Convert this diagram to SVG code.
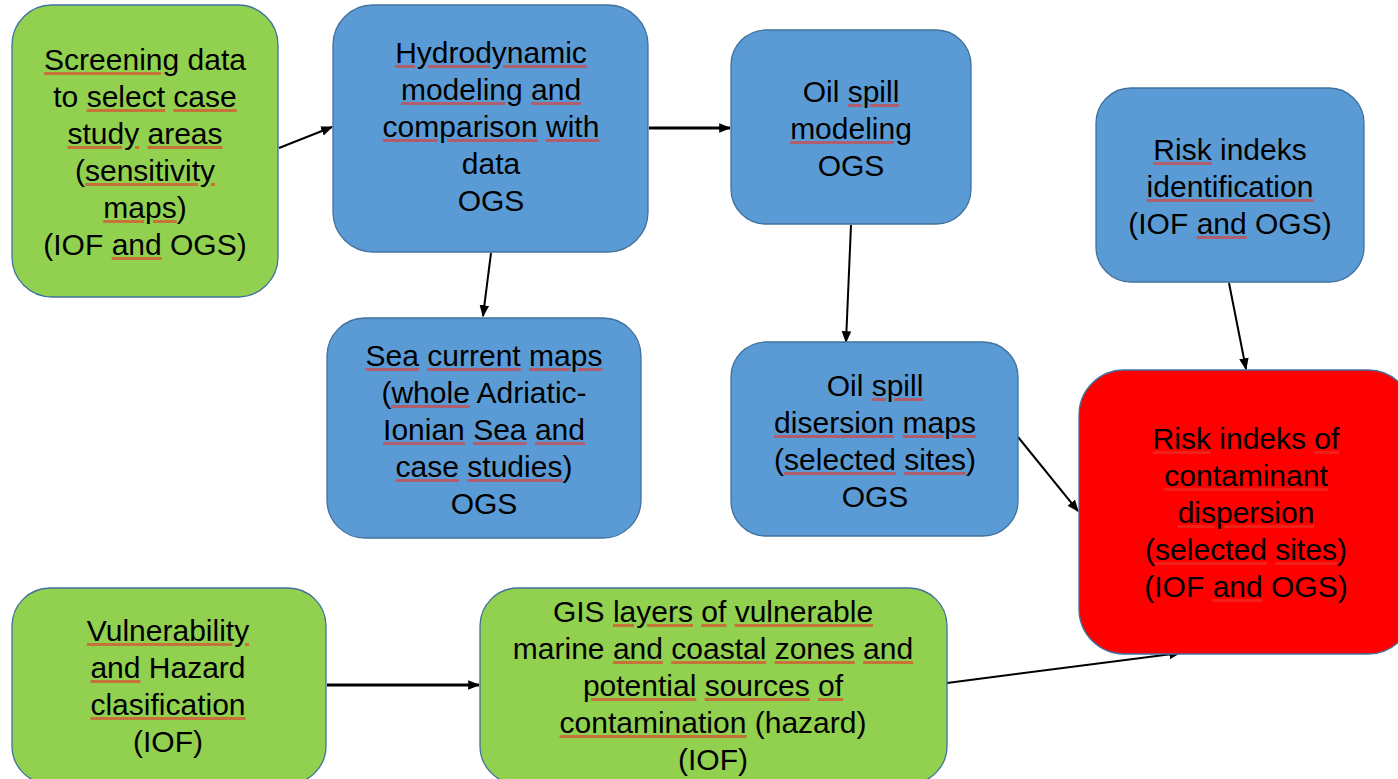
<svg xmlns="http://www.w3.org/2000/svg" width="1398" height="779" viewBox="0 0 1398 779">
<style>
.box{stroke:#41719C;stroke-width:1.3}
.g{fill:#92D050}
.b{fill:#5B9BD5}
.r{fill:#FF0000}
.t{font-family:"Liberation Sans",Arial,sans-serif;font-size:30px;fill:#000;text-anchor:middle}
.sp{fill:#e8352a;fill-opacity:0.6;text-decoration:underline;text-underline-offset:3px}
.k{fill:#000;fill-opacity:1}
.c{stroke:#000;stroke-width:2;fill:none;marker-end:url(#ah)}
.c3{stroke:#000;stroke-width:3;fill:none;marker-end:url(#ah2)}
</style>
<defs>
<marker id="ah" viewBox="0 0 10 10" refX="9" refY="5" markerWidth="6" markerHeight="6" markerUnits="strokeWidth" orient="auto"><path d="M0,1 L10,5 L0,9 z" fill="#000"/></marker>
<marker id="ah2" viewBox="0 0 10 10" refX="9" refY="5" markerWidth="4" markerHeight="4" markerUnits="strokeWidth" orient="auto"><path d="M0,1 L10,5 L0,9 z" fill="#000"/></marker>
</defs>
<rect width="1398" height="779" fill="#fff"/>

<g id="connectors">
<line class="c" x1="279" y1="148" x2="332" y2="127"/>
<line class="c3" x1="649" y1="128" x2="730" y2="128"/>
<line class="c" x1="491" y1="253" x2="483" y2="316"/>
<line class="c" x1="851" y1="225" x2="846" y2="342"/>
<line class="c" x1="1229" y1="283" x2="1246" y2="369"/>
<line class="c" x1="1018" y1="437" x2="1078" y2="511"/>
<line class="c3" x1="327" y1="685" x2="479" y2="685"/>
<line class="c" x1="947" y1="683" x2="1180" y2="653"/>
</g>

<g id="n1">
<rect class="box g" x="12" y="5" width="266" height="292" rx="40"/>
<text class="t" y="70"><tspan x="145"><tspan class="sp"><tspan class="k">Screening</tspan></tspan> data</tspan><tspan x="145" dy="37">to <tspan class="sp"><tspan class="k">select</tspan></tspan> <tspan class="sp"><tspan class="k">case</tspan></tspan></tspan><tspan x="145" dy="37"><tspan class="sp"><tspan class="k">study</tspan></tspan> <tspan class="sp"><tspan class="k">areas</tspan></tspan></tspan><tspan x="145" dy="37">(<tspan class="sp"><tspan class="k">sensitivity</tspan></tspan></tspan><tspan x="145" dy="37"><tspan class="sp"><tspan class="k">maps</tspan></tspan>)</tspan><tspan x="145" dy="37">(IOF <tspan class="sp"><tspan class="k">and</tspan></tspan> OGS)</tspan></text>
</g>

<g id="n2">
<rect class="box b" x="333" y="5" width="315" height="247" rx="40"/>
<text class="t" y="63"><tspan x="491"><tspan class="sp"><tspan class="k">Hydrodynamic</tspan></tspan></tspan><tspan x="491" dy="37"><tspan class="sp"><tspan class="k">modeling</tspan></tspan> <tspan class="sp"><tspan class="k">and</tspan></tspan></tspan><tspan x="491" dy="37"><tspan class="sp"><tspan class="k">comparison</tspan></tspan> <tspan class="sp"><tspan class="k">with</tspan></tspan></tspan><tspan x="491" dy="37">data</tspan><tspan x="491" dy="37">OGS</tspan></text>
</g>

<g id="n3">
<rect class="box b" x="731" y="30" width="240" height="194" rx="35"/>
<text class="t" y="102"><tspan x="851">Oil <tspan class="sp"><tspan class="k">spill</tspan></tspan></tspan><tspan x="851" dy="37"><tspan class="sp"><tspan class="k">modeling</tspan></tspan></tspan><tspan x="851" dy="37">OGS</tspan></text>
</g>

<g id="n4">
<rect class="box b" x="1096" y="88" width="268" height="194" rx="35"/>
<text class="t" y="160"><tspan x="1230"><tspan class="sp"><tspan class="k">Risk</tspan></tspan> indeks</tspan><tspan x="1230" dy="37"><tspan class="sp"><tspan class="k">identification</tspan></tspan></tspan><tspan x="1230" dy="37">(IOF <tspan class="sp"><tspan class="k">and</tspan></tspan> OGS)</tspan></text>
</g>

<g id="n5">
<rect class="box b" x="327" y="318" width="314" height="220" rx="38"/>
<text class="t" y="366"><tspan x="484"><tspan class="sp"><tspan class="k">Sea</tspan></tspan> <tspan class="sp"><tspan class="k">current</tspan></tspan> <tspan class="sp"><tspan class="k">maps</tspan></tspan></tspan><tspan x="484" dy="37">(<tspan class="sp"><tspan class="k">whole</tspan></tspan> Adriatic-</tspan><tspan x="484" dy="37"><tspan class="sp"><tspan class="k">Ionian</tspan></tspan> <tspan class="sp"><tspan class="k">Sea</tspan></tspan> <tspan class="sp"><tspan class="k">and</tspan></tspan></tspan><tspan x="484" dy="37"><tspan class="sp"><tspan class="k">case</tspan></tspan> <tspan class="sp"><tspan class="k">studies</tspan></tspan>)</tspan><tspan x="484" dy="37">OGS</tspan></text>
</g>

<g id="n6">
<rect class="box b" x="731" y="342" width="287" height="194" rx="35"/>
<text class="t" y="396"><tspan x="875">Oil <tspan class="sp"><tspan class="k">spill</tspan></tspan></tspan><tspan x="875" dy="37"><tspan class="sp"><tspan class="k">disersion</tspan></tspan> <tspan class="sp"><tspan class="k">maps</tspan></tspan></tspan><tspan x="875" dy="37">(<tspan class="sp"><tspan class="k">selected</tspan></tspan> <tspan class="sp"><tspan class="k">sites</tspan></tspan>)</tspan><tspan x="875" dy="37">OGS</tspan></text>
</g>

<g id="n7">
<rect class="box r" x="1079" y="370" width="334" height="284" rx="45"/>
<text class="t" y="449"><tspan x="1246"><tspan class="sp"><tspan class="k">Risk</tspan></tspan> indeks <tspan class="sp"><tspan class="k">of</tspan></tspan></tspan><tspan x="1246" dy="37"><tspan class="sp"><tspan class="k">contaminant</tspan></tspan></tspan><tspan x="1246" dy="37"><tspan class="sp"><tspan class="k">dispersion</tspan></tspan></tspan><tspan x="1246" dy="37">(<tspan class="sp"><tspan class="k">selected</tspan></tspan> <tspan class="sp"><tspan class="k">sites</tspan></tspan>)</tspan><tspan x="1246" dy="37">(IOF <tspan class="sp"><tspan class="k">and</tspan></tspan> OGS)</tspan></text>
</g>

<g id="n8">
<rect class="box g" x="12" y="588" width="314" height="196" rx="38"/>
<text class="t" y="641"><tspan x="168"><tspan class="sp"><tspan class="k">Vulnerability</tspan></tspan></tspan><tspan x="168" dy="37"><tspan class="sp"><tspan class="k">and</tspan></tspan> Hazard</tspan><tspan x="168" dy="37"><tspan class="sp"><tspan class="k">clasification</tspan></tspan></tspan><tspan x="168" dy="37">(IOF)</tspan></text>
</g>

<g id="n9">
<rect class="box g" x="480" y="588" width="467" height="196" rx="38"/>
<text class="t" y="622"><tspan x="713">GIS <tspan class="sp"><tspan class="k">layers</tspan></tspan> <tspan class="sp"><tspan class="k">of</tspan></tspan> <tspan class="sp"><tspan class="k">vulnerable</tspan></tspan></tspan><tspan x="713" dy="37">marine <tspan class="sp"><tspan class="k">and</tspan></tspan> <tspan class="sp"><tspan class="k">coastal</tspan></tspan> <tspan class="sp"><tspan class="k">zones</tspan></tspan> <tspan class="sp"><tspan class="k">and</tspan></tspan></tspan><tspan x="713" dy="37"><tspan class="sp"><tspan class="k">potential</tspan></tspan> <tspan class="sp"><tspan class="k">sources</tspan></tspan> <tspan class="sp"><tspan class="k">of</tspan></tspan></tspan><tspan x="713" dy="37"><tspan class="sp"><tspan class="k">contamination</tspan></tspan> (hazard)</tspan><tspan x="713" dy="37">(IOF)</tspan></text>
</g>
</svg>
